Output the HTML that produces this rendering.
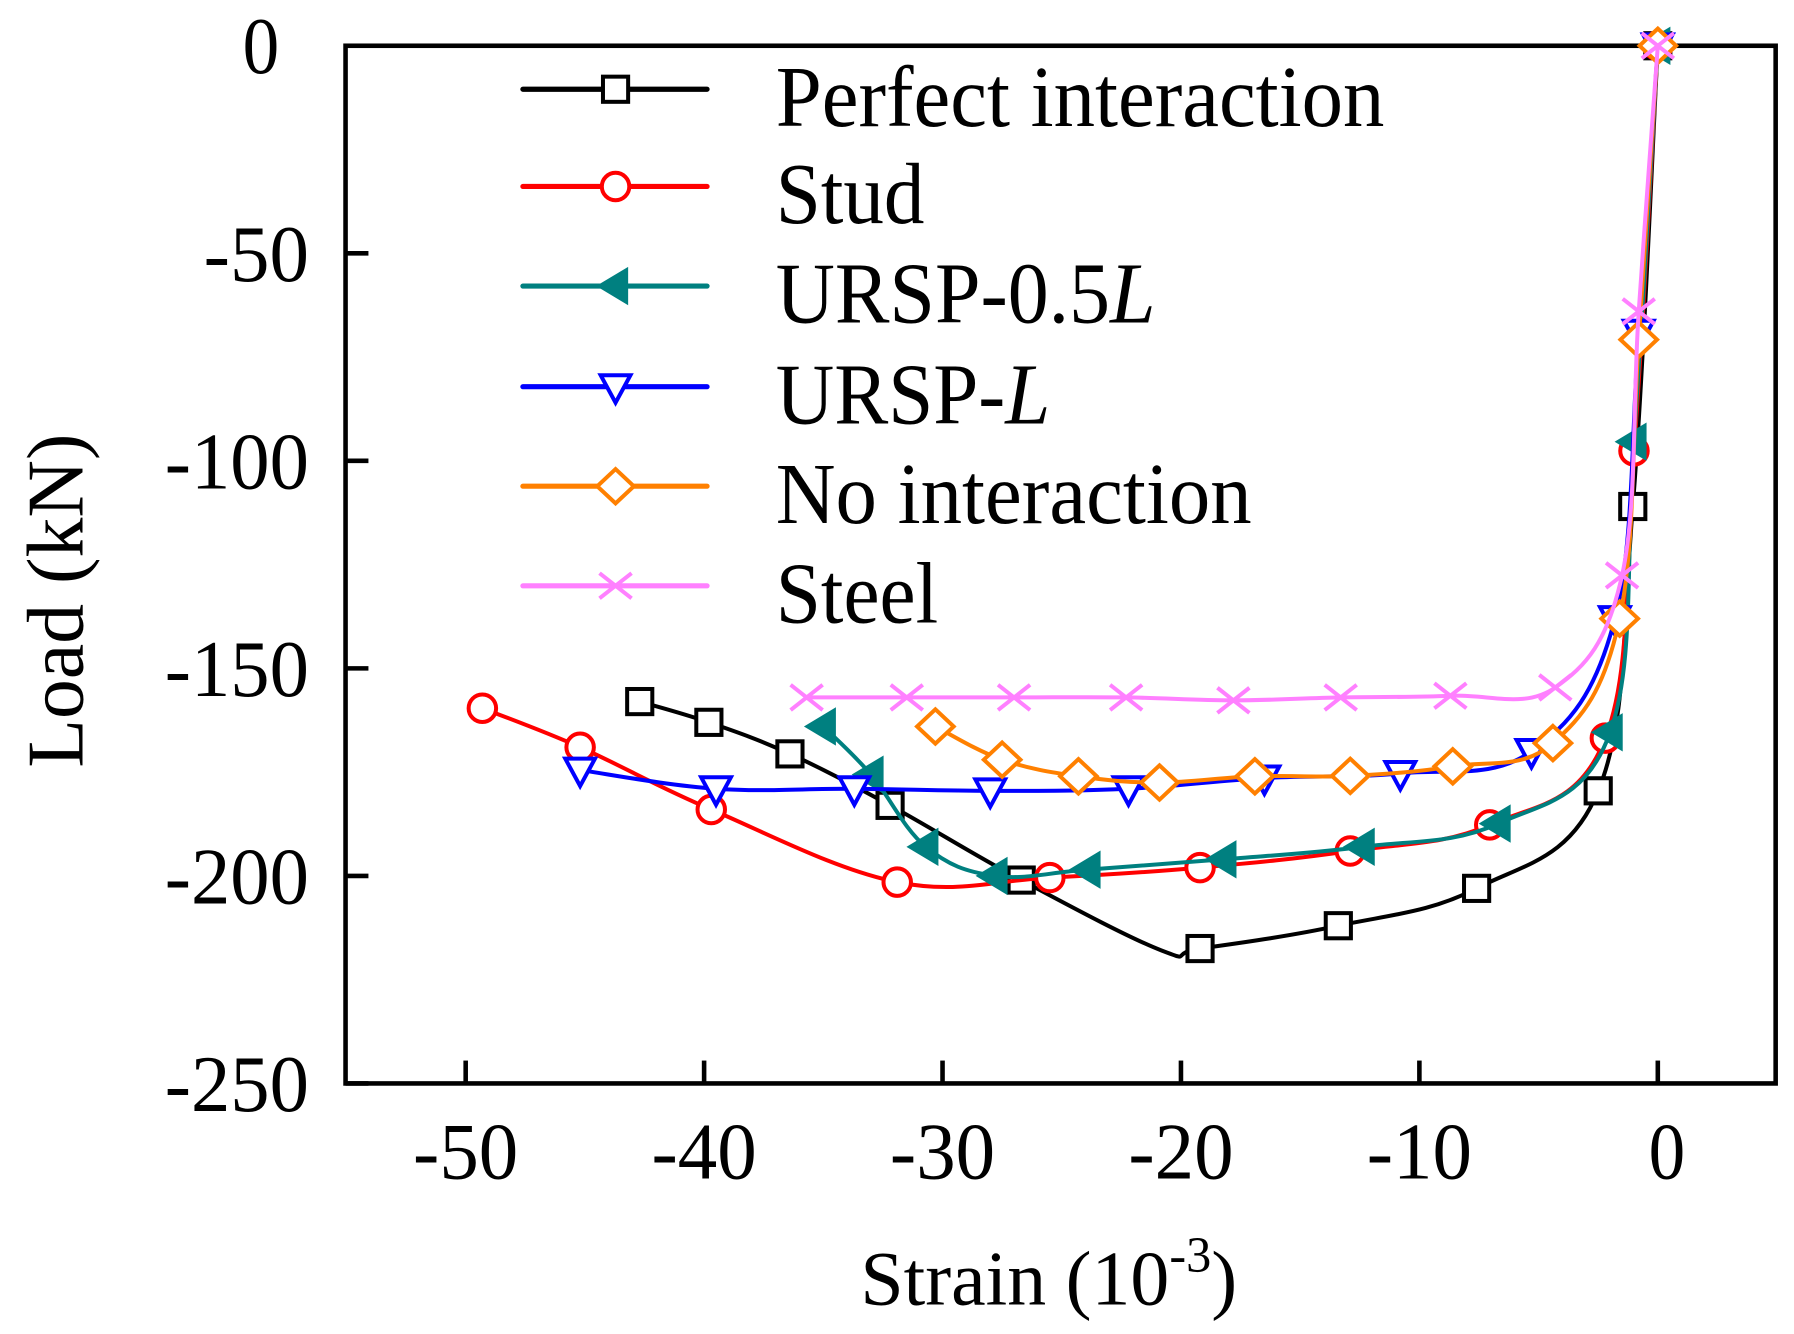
<!DOCTYPE html>
<html><head><meta charset="utf-8"><style>
html,body{margin:0;padding:0;background:#fff;}
svg{display:block;}
text{font-family:"Liberation Serif",serif;fill:#000;}
</style></head><body>
<svg id="chart" width="1794" height="1334" viewBox="0 0 1568 1166" xmlns="http://www.w3.org/2000/svg">
<g id="plot"></g>
</svg>
<script>
const xTicks=[-50,-40,-30,-20,-10,0];
const yTicks=[0,-50,-100,-150,-200,-250];
const seriesNames=["Perfect interaction","Stud","URSP-0.5L","URSP-L","No interaction","Steel"];
const perfectX=[-42.7,-39.8,-36.4,-32.2,-26.7,-20.8,-19.2,-13.4,-7.6,-2.5,-1.05,0];
const perfectY=[-158,-163,-170.6,-183,-201,-218,-217.5,-212,-203,-179.5,-111,0];
const perfectMk=[1,1,1,1,1,0,1,1,1,1,1,1];
const studX=[-49.3,-45.2,-39.7,-31.9,-25.5,-19.2,-12.9,-7.05,-2.2,-1.0,0];
const studY=[-159.6,-169,-184,-201.5,-200.4,-198,-194,-187.7,-166.8,-97.6,0];
const ursp05X=[-35,-33,-30.7,-27.8,-23.9,-18.2,-12.4,-6.7,-2.0,-1.0,0];
const ursp05Y=[-164,-175.6,-193,-200,-198.5,-196,-193,-187.4,-165.4,-95.4,0];
const urspLX=[-45.2,-39.5,-33.7,-28,-22.2,-16.5,-10.8,-5.3,-1.8,-0.8,0];
const urspLY=[-174.5,-179,-179,-179.5,-179,-176.4,-175.3,-170,-138,-69,0];
const noIntX=[-30.3,-27.5,-24.3,-20.9,-16.9,-12.9,-8.6,-4.4,-1.6,-0.8,0];
const noIntY=[-164,-172,-176,-177.5,-176,-175.9,-173.6,-168,-138,-70.8,0];
const steelX=[-35.7,-31.5,-27,-22.3,-17.8,-13.3,-8.7,-4.3,-1.5,-0.8,0];
const steelY=[-157,-157,-157,-157,-157.7,-157,-156.6,-154.6,-127.6,-64,0];

const L=302,R=1552,T=40,B=947;
const sx=v=>1449+(v)*20.84;
const sy=v=>T-(v)*3.628;
const NS="http://www.w3.org/2000/svg";
const g=document.getElementById('plot');
function el(tag,attrs,parent){const e=document.createElementNS(NS,tag);for(const k in attrs)e.setAttribute(k,attrs[k]);(parent||g).appendChild(e);return e;}

const frame=el('rect',{x:L,y:T,width:R-L,height:B-T,fill:'none',stroke:'#000','stroke-width':4});


const xlw={'-50':92,'-40':92,'-30':92,'-20':92,'-10':92,'0':32};
xTicks.forEach(v=>{
  const t=el('line',{x1:sx(v),x2:sx(v),y1:B,y2:B-20,stroke:'#000','stroke-width':4});
  
  
  const lb=el('text',{x:sx(v)+(v===0?8:0),y:1030,'font-size':70,'text-anchor':'middle',textLength:xlw[String(v)],lengthAdjust:'spacingAndGlyphs'});
  lb.textContent=String(v);
  
  
});
yTicks.forEach(v=>{
  const s=String(v);
  const w=s.length===1?32:(s.length===3?92:126);
  const lb=el('text',{x:v===0?244:270,y:sy(v)+24,'font-size':70,'text-anchor':'end',textLength:w,lengthAdjust:'spacingAndGlyphs'});
  lb.textContent=s;
  
  
  const t=el('line',{x1:L,x2:L+20,y1:sy(v),y2:sy(v),stroke:'#000','stroke-width':4});
  
  
});
const xt=el('text',{x:752,y:1140,'font-size':68});
xt.innerHTML='Strain (10<tspan dy="-28" font-size="44">-3</tspan><tspan dy="28">)</tspan>';


const yt=el('text',{x:0,y:0,'font-size':70,'text-anchor':'middle',textLength:292,lengthAdjust:'spacingAndGlyphs',transform:'translate(72,525) rotate(-90)'});
yt.textContent='Load (kN)';



function smooth(pts){
  let d='M'+pts[0][0]+','+pts[0][1];
  for(let i=0;i<pts.length-1;i++){
    const p0=pts[Math.max(0,i-1)],p1=pts[i],p2=pts[i+1],p3=pts[Math.min(pts.length-1,i+2)];
    const t=0.18;
    const c1=[p1[0]+(p2[0]-p0[0])*t,p1[1]+(p2[1]-p0[1])*t];
    const c2=[p2[0]-(p3[0]-p1[0])*t,p2[1]-(p3[1]-p1[1])*t];
    d+=' C'+c1.join(',')+' '+c2.join(',')+' '+p2.join(',');
  }
  return d;
}
function marker(type,x,y,color,parent){
  let m;
  if(type==='square') m=el('rect',{x:x-11,y:y-11,width:22,height:22,fill:'#fff',stroke:color,'stroke-width':3.5},parent);
  else if(type==='circle') m=el('circle',{cx:x,cy:y,r:12,fill:'#fff',stroke:color,'stroke-width':3.5},parent);
  else if(type==='left') m=el('polygon',{points:`${x-15},${y} ${x+10},${y-15} ${x+10},${y+15}`,fill:color,stroke:color,'stroke-width':2},parent);
  else if(type==='down') m=el('polygon',{points:`${x-13},${y-10} ${x+13},${y-10} ${x},${y+14}`,fill:'#fff',stroke:color,'stroke-width':3.5},parent);
  else if(type==='diamond') m=el('polygon',{points:`${x},${y-15} ${x+16},${y} ${x},${y+15} ${x-16},${y}`,fill:'#fff',stroke:color,'stroke-width':3.5},parent);
  else { m=el('path',{d:`M${x-14},${y-11}L${x+14},${y+11}M${x-14},${y+11}L${x+14},${y-11}`,stroke:color,'stroke-width':3.5,fill:'none'},parent); }
  
  
  return m;
}
const series=[
 {xs:perfectX,ys:perfectY,mk:perfectMk,color:'#000',type:'square',name:'perfect-interaction'},
 {xs:studX,ys:studY,color:'#ff0000',type:'circle',name:'stud'},
 {xs:ursp05X,ys:ursp05Y,color:'#008080',type:'left',name:'ursp-0.5l'},
 {xs:urspLX,ys:urspLY,color:'#0000ff',type:'down',name:'ursp-l'},
 {xs:noIntX,ys:noIntY,color:'#ff8000',type:'diamond',name:'no-interaction'},
 {xs:steelX,ys:steelY,color:'#ff80ff',type:'cross',name:'steel'}
];
series.forEach(s=>{
  const grp=el('g',{});
  
  
  const pts=s.xs.map((v,i)=>[sx(v),sy(s.ys[i])]);
  const p=el('path',{d:smooth(pts),fill:'none',stroke:s.color,'stroke-width':3.5},grp);
  
  
  pts.forEach((q,i)=>{ if(!s.mk||s.mk[i]) marker(s.type,q[0],q[1],s.color,grp); });
});
const legY=[78,163,250,338,425,512];
const legW=[532,130,332,240,416,142];
series.forEach((s,i)=>{
  const grp=el('g',{});
  
  
  el('line',{x1:457,x2:618,y1:legY[i],y2:legY[i],stroke:s.color,'stroke-width':4.5,'stroke-linecap':'round'},grp);
  marker(s.type,538,legY[i],s.color,grp);
  const tx=el('text',{x:678,y:legY[i]+32,'font-size':76,textLength:legW[i],lengthAdjust:'spacingAndGlyphs'},grp);
  const nm=seriesNames[i];
  if(nm.endsWith('L')){tx.innerHTML=nm.slice(0,-1)+'<tspan font-style="italic">L</tspan>';}
  else tx.textContent=nm;
  
  
});
</script>
</body></html>
